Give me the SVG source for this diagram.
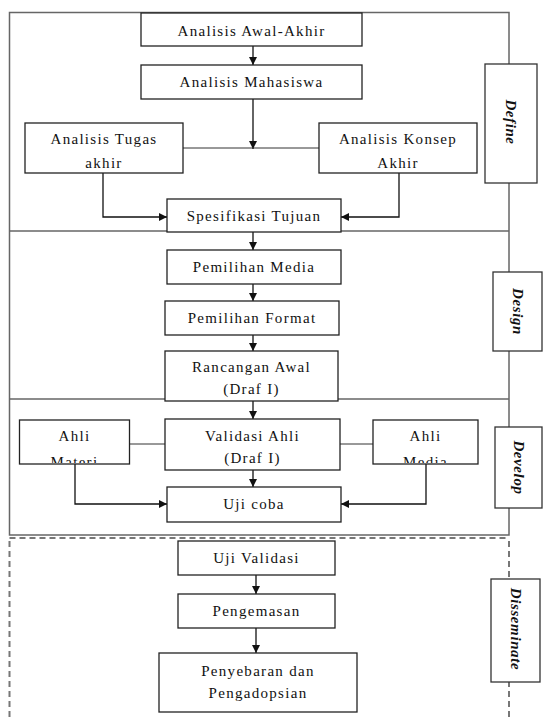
<svg xmlns="http://www.w3.org/2000/svg" width="543" height="717" viewBox="0 0 543 717">
<style>
.frame{fill:none;stroke:#666;stroke-width:1.5}
.dash{fill:none;stroke:#777;stroke-width:2;stroke-dasharray:6 4}
.box{fill:#fff;stroke:#222;stroke-width:1.3}
.lbl{fill:#fff;stroke:#333;stroke-width:1.3}
.t{font-family:"Liberation Serif","Times New Roman",serif;font-size:15px;letter-spacing:1.3px;fill:#111;text-anchor:middle}
.ph{font-family:"Liberation Serif","Times New Roman",serif;font-size:15px;font-weight:bold;font-style:italic;letter-spacing:0.6px;fill:#111;text-anchor:middle;dominant-baseline:central}
.c{fill:none;stroke:#111;stroke-width:1.3}
.cl{fill:none;stroke:#333;stroke-width:1}
</style>
<defs>
<marker id="ah" viewBox="0 0 10 10" refX="10" refY="5" markerWidth="8" markerHeight="8" markerUnits="userSpaceOnUse" orient="auto">
<path d="M0,0 L10,5 L0,10 z" fill="#111"/>
</marker>
<clipPath id="clipMat"><rect x="20" y="421" width="109" height="42"/></clipPath>
<clipPath id="clipMed"><rect x="374" y="421" width="103" height="42"/></clipPath>
</defs>
<rect width="543" height="717" fill="#fff"/>
<g id="frames">
<rect class="frame" x="9.5" y="12.5" width="499.5" height="522.5"/>
<line class="frame" x1="9.5" y1="231" x2="509" y2="231"/>
<line class="frame" x1="9.5" y1="399" x2="509" y2="399"/>
<line class="dash" x1="9.5" y1="538" x2="509" y2="538"/>
<line class="dash" x1="9.5" y1="541" x2="9.5" y2="717" stroke="#222"/>
<line class="dash" x1="509" y1="541" x2="509" y2="717"/>
</g>
<g id="connectors">
<line class="c" x1="253" y1="46" x2="253" y2="65" marker-end="url(#ah)"/>
<line class="c" x1="253" y1="99" x2="253" y2="149" marker-end="url(#ah)"/>
<line class="cl" x1="183" y1="148" x2="319" y2="148"/>
<polyline class="c" points="103,173 103,217 167,217" marker-end="url(#ah)"/>
<polyline class="c" points="399,173 399,217 341,217" marker-end="url(#ah)"/>
<line class="c" x1="253" y1="232" x2="253" y2="250" marker-end="url(#ah)"/>
<line class="c" x1="253" y1="284" x2="253" y2="301" marker-end="url(#ah)"/>
<line class="c" x1="253" y1="335" x2="253" y2="351" marker-end="url(#ah)"/>
<line class="c" x1="253" y1="401" x2="253" y2="419" marker-end="url(#ah)"/>
<line class="cl" x1="130" y1="444" x2="165" y2="444"/>
<line class="cl" x1="340" y1="444" x2="373" y2="444"/>
<line class="c" x1="253" y1="470" x2="253" y2="487" marker-end="url(#ah)"/>
<polyline class="c" points="75,464 75,504 167,504" marker-end="url(#ah)"/>
<polyline class="c" points="426,464 426,504 341,504" marker-end="url(#ah)"/>
<line class="c" x1="256" y1="575" x2="256" y2="594" marker-end="url(#ah)"/>
<line class="c" x1="256" y1="628" x2="256" y2="653" marker-end="url(#ah)"/>
</g>
<g id="n-awal"><rect class="box" x="141" y="13" width="221" height="33"/><text class="t" x="251.5" y="36">Analisis Awal-Akhir</text></g>
<g id="n-mhs"><rect class="box" x="141" y="65" width="221" height="34"/><text class="t" x="251.5" y="87">Analisis Mahasiswa</text></g>
<g id="n-tugas"><rect class="box" x="25" y="123" width="158" height="50"/><text class="t" x="104" y="144">Analisis Tugas</text><text class="t" x="104" y="168">akhir</text></g>
<g id="n-konsep"><rect class="box" x="319" y="123" width="158" height="50"/><text class="t" x="398" y="144">Analisis Konsep</text><text class="t" x="398" y="168">Akhir</text></g>
<g id="n-spes"><rect class="box" x="167" y="199" width="174" height="33"/><text class="t" x="254" y="221">Spesifikasi Tujuan</text></g>
<g id="n-media"><rect class="box" x="167" y="250" width="174" height="34"/><text class="t" x="254" y="272">Pemilihan Media</text></g>
<g id="n-format"><rect class="box" x="165" y="301" width="174" height="34"/><text class="t" x="252" y="323">Pemilihan Format</text></g>
<g id="n-rancang"><rect class="box" x="165" y="351" width="173" height="50"/><text class="t" x="251.5" y="372">Rancangan Awal</text><text class="t" x="251.5" y="394">(Draf I)</text></g>
<g id="n-materi"><rect class="box" x="19.5" y="420" width="110" height="44"/><text class="t" x="74.5" y="441">Ahli</text><text class="t" x="74.5" y="467" clip-path="url(#clipMat)">Materi</text></g>
<g id="n-valid"><rect class="box" x="165" y="419" width="175" height="51"/><text class="t" x="252.5" y="441">Validasi Ahli</text><text class="t" x="252.5" y="463">(Draf I)</text></g>
<g id="n-ahlimedia"><rect class="box" x="373" y="420" width="105" height="44"/><text class="t" x="425.5" y="441">Ahli</text><text class="t" x="425.5" y="467" clip-path="url(#clipMed)">Media</text></g>
<g id="n-ujicoba"><rect class="box" x="167" y="487" width="174" height="35"/><text class="t" x="254" y="509">Uji coba</text></g>
<g id="n-ujival"><rect class="box" x="178" y="541" width="157" height="34"/><text class="t" x="256.5" y="563">Uji Validasi</text></g>
<g id="n-kemas"><rect class="box" x="178" y="594" width="157" height="34"/><text class="t" x="256.5" y="616">Pengemasan</text></g>
<g id="n-sebar"><rect class="box" x="159" y="653" width="198" height="59"/><text class="t" x="258" y="676">Penyebaran dan</text><text class="t" x="258" y="698">Pengadopsian</text></g>
<g id="l-define"><rect class="lbl" x="485" y="64" width="52" height="119"/><text class="ph" transform="translate(511,122) rotate(90)">Define</text></g>
<g id="l-design"><rect class="lbl" x="493" y="272" width="49" height="79"/><text class="ph" transform="translate(517.5,311.5) rotate(90)">Design</text></g>
<g id="l-develop"><rect class="lbl" x="495" y="427" width="47" height="81"/><text class="ph" transform="translate(518.5,467.5) rotate(90)">Develop</text></g>
<g id="l-dissem"><rect class="lbl" x="491" y="579" width="49" height="103"/><text class="ph" transform="translate(515.5,629) rotate(90)">Disseminate</text></g>
</svg>
